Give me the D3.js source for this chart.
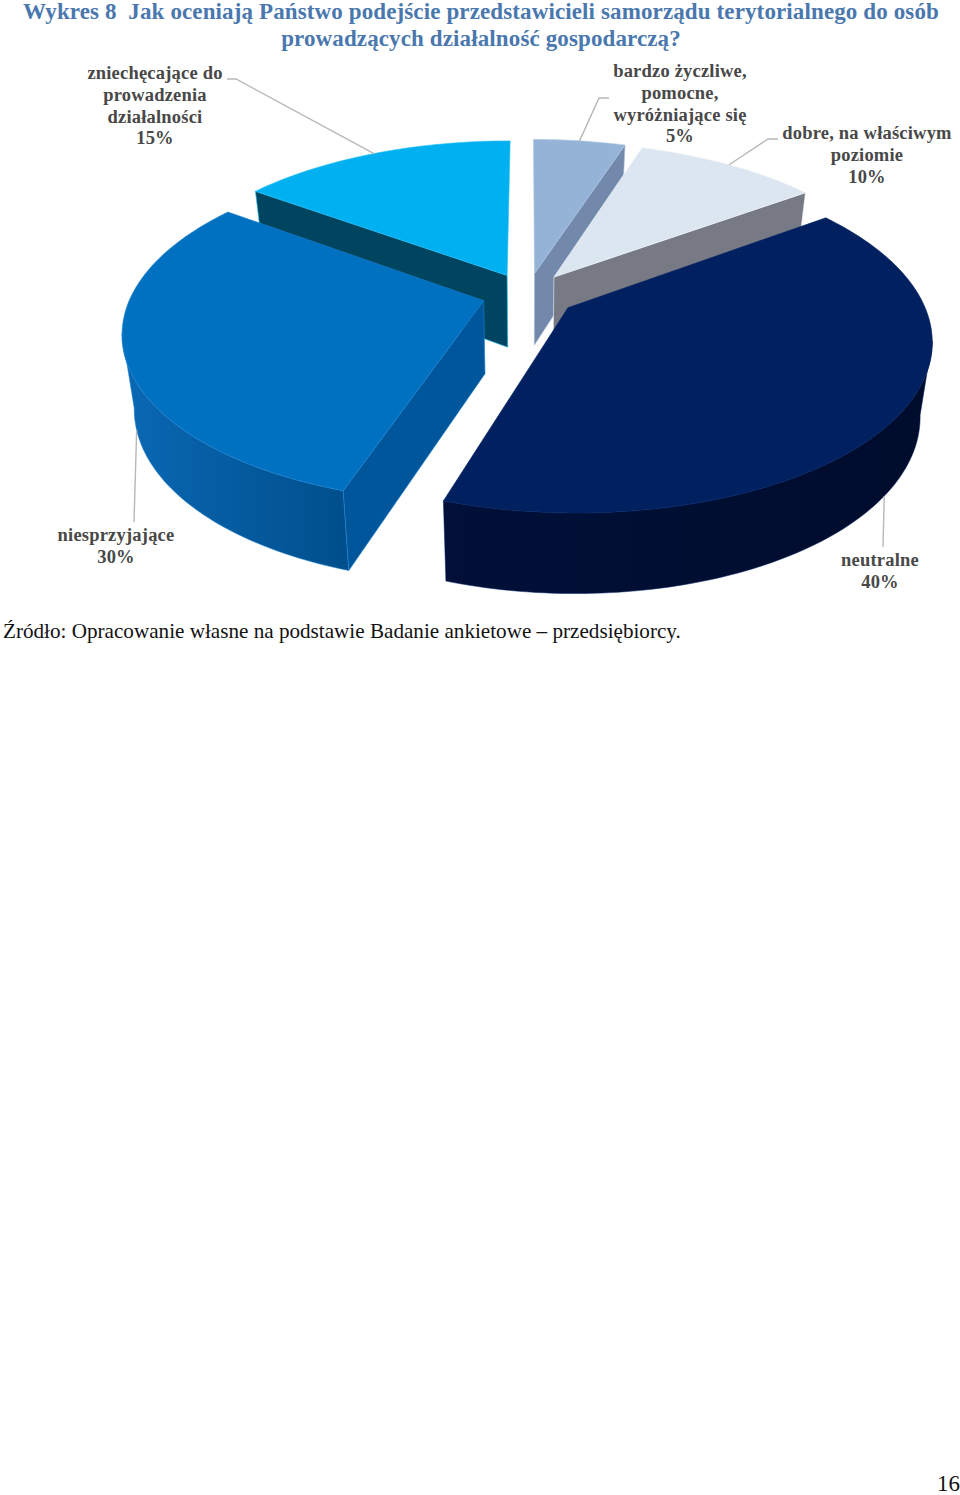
<!DOCTYPE html>
<html lang="pl">
<head>
<meta charset="utf-8">
<title>Wykres 8</title>
<script src="https://cdn.jsdelivr.net/npm/d3@7"></script>
<style>
  html, body { margin: 0; padding: 0; background: #fff; }
  svg { display: block; }
  text { font-family: "Liberation Serif", serif; }
</style>
</head>
<body>
<svg id="chart" width="960" height="1495"></svg>
<script>
const titleLines = [
  'Wykres 8  Jak oceniają Państwo podejście przedstawicieli samorządu terytorialnego do osób',
  'prowadzących działalność gospodarczą?'
]
const sourceText = 'Źródło: Opracowanie własne na podstawie Badanie ankietowe – przedsiębiorcy.'
const pageNumber = '16'

const categories = [
  ['bardzo życzliwe,', 'pomocne,', 'wyróżniające się'],
  ['dobre, na właściwym', 'poziomie'],
  ['neutralne'],
  ['niesprzyjające'],
  ['zniechęcające do', 'prowadzenia', 'działalności']
]
const shares = [5, 10, 40, 30, 15]

const topColors = ['#95b3d7', '#dce6f1', '#002060', '#0070c0', '#00b0f0']
const faceColors = ['#7289ab', '#777a85', '#001035', '#00569b', '#004560']
const wallLeft = ['#7289ab', '#777a85', '#001038', '#0a68b4', '#004560']
const wallRight = ['#7289ab', '#777a85', '#000c2c', '#004f8c', '#004560']
const edgeColors = ['#a9c2df', '#f0f4f9', '#002060', '#1c82d2', '#20bdf5']

// Painter's order, back to front, and where each label sits
const drawOrder = [4, 0, 1, 3, 2]
const labelPos = [
  { x: 680, y: 77, elbow: [[609, 98], [599, 98]] },
  { x: 867, y: 139, elbow: [[778, 139], [768, 139]] },
  { x: 880, y: 566, elbow: [[883, 547]] },
  { x: 116, y: 541, elbow: [[134, 522]] },
  { x: 155, y: 79, elbow: [[227, 79], [236, 79]] }
]

// Plane of the pie: radius 1, Y pointing away from the viewer
const cx = 527.5, cy = 294
const radiusX = 352, radiusY = 164
const perspective = 0.175
const explode = [0.13, 0.13, 0.14, 0.13, 0.13]
const depth = 72.7
const baseShrink = 0.97

const xScale = d3.scaleLinear().domain([-1, 1]).range([cx - radiusX, cx + radiusX])
const yScale = d3.scaleLinear().domain([-1, 1]).range([cy + radiusY, cy - radiusY])

function project(X, Y, bottom) {
  const s = 1 / (1 + perspective * Y)
  if (!bottom) return [xScale(X * s), yScale(Y * s)]
  return [xScale(X * s * baseShrink), yScale(Y * s) + depth * (1 - 0.1 * Y)]
}

const pie = d3.pie().sort(null).value(d => d)
const slices = pie(shares).map((d, i) => {
  const mid = (d.startAngle + d.endAngle) / 2
  return { ...d, i, mid, ox: explode[i] * Math.sin(mid), oy: explode[i] * Math.cos(mid) }
})

const rimPoint = (d, a, bottom) => project(d.ox + Math.sin(a), d.oy + Math.cos(a), bottom)
const apexPoint = (d, bottom) => project(d.ox, d.oy, bottom)
const rimAngles = d => {
  const n = Math.max(6, Math.round((d.endAngle - d.startAngle) / 0.02))
  return d3.range(n + 1).map(k => d.startAngle + (d.endAngle - d.startAngle) * k / n)
}

// A cut face shows only if extruding its edge downwards leaves the top face
function faceVisible(d, a) {
  const A = apexPoint(d, false), R = rimPoint(d, a, false), M = rimPoint(d, d.mid, false)
  const ex = R[0] - A[0], ey = R[1] - A[1]
  if (Math.abs(ex) < 10) return false
  const sideMid = ex * (M[1] - A[1]) - ey * (M[0] - A[0])
  return sideMid * ex < 0
}

const svg = d3.select('#chart')
const defs = svg.append('defs')
const line = d3.line()

titleLines.forEach((t, i) => {
  svg.append('text')
    .attr('x', 481)
    .attr('y', i === 0 ? 19 : 46)
    .attr('text-anchor', 'middle')
    .attr('font-size', 23)
    .attr('font-weight', 'bold')
    .attr('letter-spacing', 0.12)
    .attr('fill', '#4a78ae')
    .style('white-space', 'pre')
    .text(t)
})

const groups = svg.append('g').selectAll('g')
  .data(drawOrder.map(i => slices[i]))
  .join('g')

// outer wall: only the run of rim that faces the viewer (x falling as the angle grows)
groups.each(function (d) {
  const angles = rimAngles(d)
  const tops = angles.map(a => rimPoint(d, a, false))
  const facing = d3.range(angles.length - 1).filter(k => tops[k + 1][0] < tops[k][0])
  if (!facing.length) return
  const from = d3.min(facing), to = d3.max(facing) + 1
  const front = angles.slice(from, to + 1)
  const upper = front.map(a => rimPoint(d, a, false))
  const lower = front.map(a => rimPoint(d, a, true)).reverse()
  const [x0, x1] = d3.extent(upper, p => p[0])
  const grad = defs.append('linearGradient')
    .attr('id', 'wall' + d.i)
    .attr('gradientUnits', 'userSpaceOnUse')
    .attr('x1', x0).attr('x2', x1).attr('y1', 0).attr('y2', 0)
  grad.append('stop').attr('offset', 0).attr('stop-color', wallLeft[d.i])
  grad.append('stop').attr('offset', 1).attr('stop-color', wallRight[d.i])
  d3.select(this).append('path')
    .attr('d', line([...upper, ...lower]) + 'Z')
    .attr('fill', `url(#wall${d.i})`)
    .attr('stroke', edgeColors[d.i])
    .attr('stroke-width', 0.5)
})

// the cut faces that can be seen
groups.each(function (d) {
  const g = d3.select(this)
  ;[d.startAngle, d.endAngle].filter(a => faceVisible(d, a)).forEach(a => {
    g.append('path')
      .attr('d', line([apexPoint(d, false), rimPoint(d, a, false), rimPoint(d, a, true), apexPoint(d, true)]) + 'Z')
      .attr('fill', faceColors[d.i])
      .attr('stroke', edgeColors[d.i])
      .attr('stroke-width', 0.6)
  })
})

// top face
groups.append('path')
  .attr('d', d => line([apexPoint(d, false), ...rimAngles(d).map(a => rimPoint(d, a, false))]) + 'Z')
  .attr('fill', d => topColors[d.i])
  .attr('stroke', d => edgeColors[d.i])
  .attr('stroke-width', 0.6)

// leader lines end on the rim at the middle of the slice
const isFront = d => Math.cos(d.mid) < 0
svg.append('g').selectAll('path')
  .data(slices)
  .join('path')
  .attr('d', d => line([...labelPos[d.i].elbow, rimPoint(d, d.mid, isFront(d))]))
  .attr('fill', 'none')
  .attr('stroke', '#b8b8b8')
  .attr('stroke-width', 1.4)

const labels = svg.append('g').selectAll('text')
  .data(slices)
  .join('text')
  .attr('text-anchor', 'middle')
  .attr('font-size', 18.5)
  .attr('font-weight', 'bold')
  .attr('letter-spacing', 0.2)
  .attr('fill', '#484848')

labels.selectAll('tspan')
  .data(d => [...categories[d.i], shares[d.i] + '%'].map((t, k) => ({ t, k, d })))
  .join('tspan')
  .attr('x', o => labelPos[o.d.i].x)
  .attr('y', o => labelPos[o.d.i].y + o.k * 21.8)
  .text(o => o.t)

svg.append('text')
  .attr('x', 3)
  .attr('y', 638)
  .attr('font-size', 21.15)
  .attr('fill', '#111')
  .text(sourceText)

svg.append('text')
  .attr('x', 960)
  .attr('y', 1491)
  .attr('text-anchor', 'end')
  .attr('font-size', 23)
  .attr('fill', '#111')
  .text(pageNumber)
</script>
</body>
</html>
